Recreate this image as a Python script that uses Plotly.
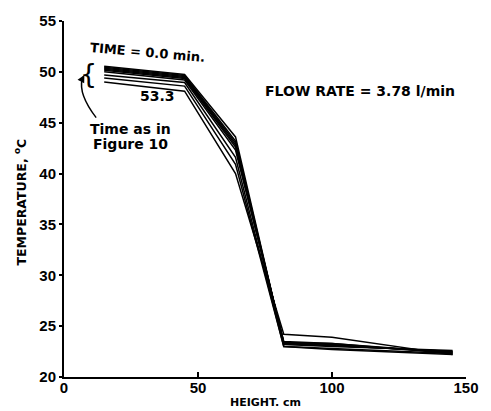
import plotly.graph_objects as go

heights = [15, 45, 64, 82, 100, 145]
series = {
    "0.0": [50.55, 49.75, 43.6, 23.2, 23.0, 22.6],
    "t2": [50.45, 49.65, 43.2, 23.3, 23.1, 22.5],
    "t3": [50.35, 49.55, 43.0, 23.3, 23.1, 22.5],
    "t4": [50.25, 49.45, 42.8, 23.4, 23.2, 22.4],
    "t5": [50.15, 49.35, 42.6, 23.4, 23.3, 22.4],
    "t6": [50.0, 49.2, 42.3, 23.5, 23.3, 22.3],
    "t7": [49.7, 48.95, 41.6, 23.0, 22.8, 22.3],
    "t8": [49.4, 48.6, 40.9, 23.0, 22.7, 22.2],
    "53.3": [49.0, 48.1, 40.0, 24.2, 23.9, 22.2],
}
x_ticks = [0, 50, 100, 150]
y_ticks = [20, 25, 30, 35, 40, 45, 50, 55]

TICKFONT = "Liberation Sans"
TXT = "DejaVu Sans"
fig = go.Figure()
for name, vals in series.items():
    fig.add_trace(go.Scatter(x=heights, y=vals, mode="lines", name=name,
                             line=dict(color="black", width=1.5), showlegend=False))

fig.update_layout(
    width=491, height=411,
    margin=dict(l=64, r=15, t=20, b=34),
    plot_bgcolor="white", paper_bgcolor="white",
    font=dict(family=TXT, color="black"),
    xaxis=dict(range=[0, 150], tickvals=x_ticks, showgrid=False, zeroline=False,
               showline=True, linecolor="black", linewidth=2, ticks="inside",
               ticklen=5, tickwidth=1.5, tickcolor="black", ticklabelstandoff=-4,
               tickfont=dict(size=15, weight="bold", family=TICKFONT)),
    yaxis=dict(range=[20, 55], tickvals=y_ticks, showgrid=False, zeroline=False,
               showline=True, linecolor="black", linewidth=2, ticks="outside",
               ticklen=3, tickwidth=1.5, tickcolor="black",
               tickfont=dict(size=15, weight="bold", family=TICKFONT)),
)

ann = [
    dict(text="TIME = 0.0 min.", x=31, y=51.9, textangle=5, font=dict(size=13, weight="bold")),
    dict(text="{", x=9.3, y=49.8, font=dict(size=27)),
    dict(text="53.3", x=35, y=47.6, font=dict(size=14, weight="bold")),
    dict(text="Time as in", x=24.8, y=44.4, font=dict(size=14, weight="bold")),
    dict(text="Figure 10", x=24.8, y=42.9, font=dict(size=14, weight="bold")),
    dict(text="FLOW RATE = 3.78 l/min", x=110.6, y=48.1, font=dict(size=14, weight="bold")),
]
for a in ann:
    fig.add_annotation(xref="x", yref="y", showarrow=False, xanchor="center", yanchor="middle", **a)

fig.add_annotation(text="HEIGHT. cm", xref="paper", yref="paper", x=0.5, y=-0.073,
                   xanchor="center", yanchor="middle",
                   showarrow=False, font=dict(size=11, weight="bold"))
fig.add_annotation(text="TEMPERATURE, <sup>o</sup>C", xref="paper", yref="paper", x=-0.107, y=0.493,
                   xanchor="center", yanchor="middle",
                   textangle=-90, showarrow=False, font=dict(size=12.5, weight="bold"))

fig.add_shape(type="path", xref="x", yref="y", path="M 12,45.5 Q 5.3,47.8 6.8,49.3",
              line=dict(color="black", width=1.5))
fig.add_annotation(x=7.6, y=49.7, ax=6.8, ay=49.3, xref="x", yref="y", axref="x", ayref="y",
                   text="", showarrow=True, arrowhead=2, arrowsize=1, arrowwidth=1.5, arrowcolor="black")

fig.write_html("out.html", config={"displayModeBar": False},
               post_script="document.body.style.margin='0';document.body.style.overflow='hidden';")
